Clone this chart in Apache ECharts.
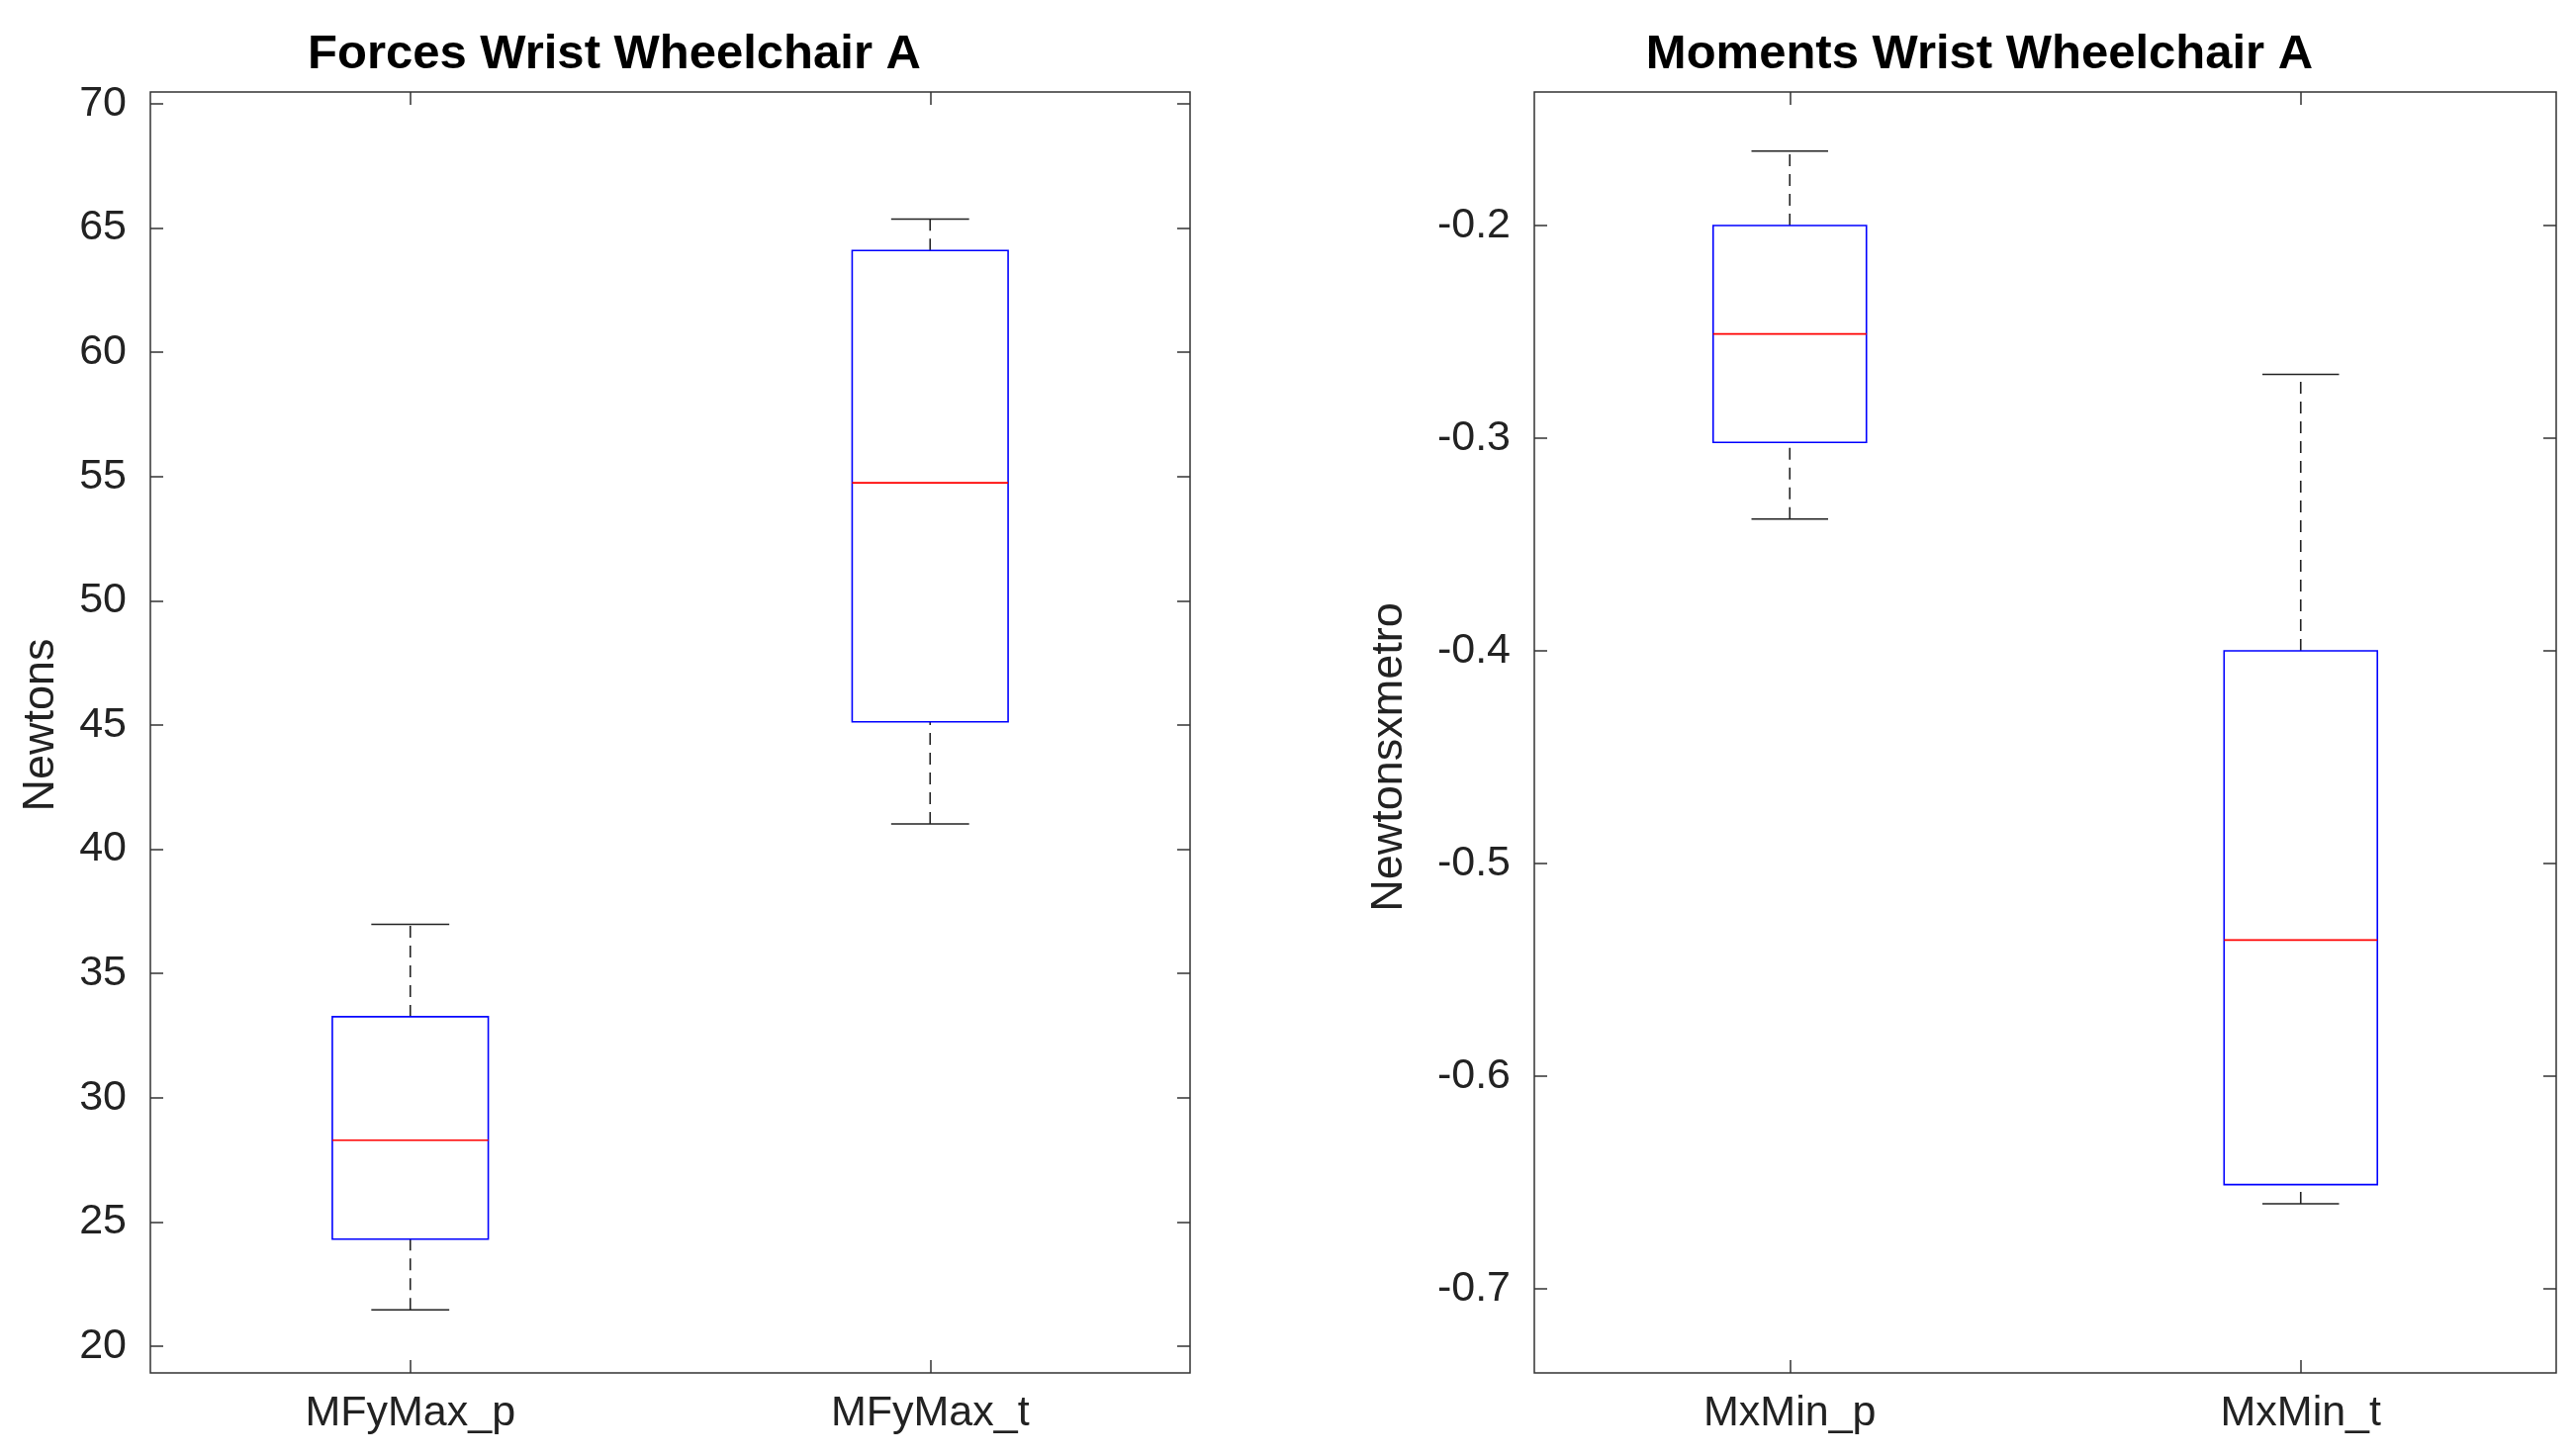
<!DOCTYPE html>
<html>
<head>
<meta charset="utf-8">
<script src="https://cdn.jsdelivr.net/npm/echarts@6/dist/echarts.min.js"></script>
<style>html,body{margin:0;padding:0;background:#fff;}#chart{width:2602px;height:1472px;}</style>
</head>
<body>
<div id="chart"></div>
<script>
// datos: [min, q1, mediana, q3, max]
var forceCats = ['MFyMax_p', 'MFyMax_t'];
var forceBoxes = [
    [21.46, 24.31, 28.29, 33.26, 36.98],
    [41.02, 45.13, 54.75, 64.10, 65.36]
];
var momentCats = ['MxMin_p', 'MxMin_t'];
var momentBoxes = [
    [-0.338, -0.302, -0.251, -0.200, -0.165],
    [-0.660, -0.651, -0.536, -0.400, -0.270]
];

var chart = echarts.init(document.getElementById('chart'));
var font = 'Liberation Sans, Arial, sans-serif';
var frameColor = '#333';

function boxRender(params, api) {
    var i = api.value(0);
    var p = [api.value(1), api.value(2), api.value(3), api.value(4), api.value(5)];
    var pts = p.map(function (v) { return api.coord([i, v]); });
    var bw = api.size([1, 0])[0] * 0.3;
    var x = pts[0][0];
    var dash = {stroke: '#222', lineWidth: 1.6, lineDash: [12, 8]};
    var solid = {stroke: '#222', lineWidth: 1.6};
    return {
        type: 'group',
        children: [
            {type: 'line', shape: {x1: x, y1: pts[0][1], x2: x, y2: pts[1][1]}, style: dash},
            {type: 'line', shape: {x1: x, y1: pts[3][1], x2: x, y2: pts[4][1]}, style: dash},
            {type: 'line', shape: {x1: x - bw / 4, y1: pts[0][1], x2: x + bw / 4, y2: pts[0][1]}, style: solid},
            {type: 'line', shape: {x1: x - bw / 4, y1: pts[4][1], x2: x + bw / 4, y2: pts[4][1]}, style: solid},
            {type: 'rect', shape: {x: x - bw / 2, y: pts[3][1], width: bw, height: pts[1][1] - pts[3][1]},
                style: {fill: 'none', stroke: '#0000ff', lineWidth: 1.6}},
            {type: 'line', shape: {x1: x - bw / 2, y1: pts[2][1], x2: x + bw / 2, y2: pts[2][1]},
                style: {stroke: '#ff0000', lineWidth: 1.6}}
        ]
    };
}

function toData(boxes) {
    return boxes.map(function (b, i) { return [i].concat(b); });
}

function xAxes(cats, grid, topOff, botOff) {
    var tick = {show: true, inside: true, length: 13, alignWithLabel: true, lineStyle: {color: frameColor, width: 1.5}};
    return [
        {type: 'category', gridIndex: grid, data: cats, position: 'bottom', offset: botOff,
            axisLine: {show: false}, axisTick: tick,
            axisLabel: {fontSize: 43, color: '#222', fontFamily: font, margin: 20}},
        {type: 'category', gridIndex: grid, data: cats, position: 'top', offset: topOff,
            axisLine: {show: false}, axisTick: tick, axisLabel: {show: false}}
    ];
}

function yAxes(grid, min, max, interval, name, gap, fmt) {
    var tick = {show: true, inside: true, length: 13, lineStyle: {color: frameColor, width: 1.5}};
    return [
        {type: 'value', gridIndex: grid, min: min, max: max, interval: interval, position: 'left',
            name: name, nameLocation: 'middle', nameGap: gap,
            nameTextStyle: {fontSize: 45, color: '#222', fontFamily: font},
            axisLine: {show: false}, axisTick: tick, splitLine: {show: false},
            axisLabel: {fontSize: 43, color: '#222', fontFamily: font, margin: 24, formatter: fmt}},
        {type: 'value', gridIndex: grid, min: min, max: max, interval: interval, position: 'right',
            axisLine: {show: false}, axisTick: tick, splitLine: {show: false}, axisLabel: {show: false}}
    ];
}

var option = {
    backgroundColor: '#fff',
    animation: false,
    title: [
        {text: 'Forces Wrist Wheelchair A', left: 616, top: 26, textAlign: 'center',
            textStyle: {fontSize: 49, fontWeight: 'bold', color: '#000', fontFamily: font}},
        {text: 'Moments Wrist Wheelchair A', left: 1996, top: 26, textAlign: 'center',
            textStyle: {fontSize: 49, fontWeight: 'bold', color: '#000', fontFamily: font}}
    ],
    grid: [
        {left: 152, width: 1051, top: 105, height: 1256},
        {left: 1551, width: 1033, top: 228, height: 1075}
    ],
    graphic: [
        {type: 'rect', shape: {x: 152, y: 93, width: 1051, height: 1295},
            style: {fill: 'none', stroke: frameColor, lineWidth: 1.5}, z: 10},
        {type: 'rect', shape: {x: 1551, y: 93, width: 1033, height: 1295},
            style: {fill: 'none', stroke: frameColor, lineWidth: 1.5}, z: 10}
    ],
    xAxis: xAxes(forceCats, 0, 12, 27).concat(xAxes(momentCats, 1, 135, 85)),
    yAxis: yAxes(0, 20, 70, 5, 'Newtons', 88, null)
        .concat(yAxes(1, -0.7, -0.2, 0.1, 'Newtonsxmetro', 124, function (v) { return String(Math.round(v * 10) / 10); })),
    series: [
        {type: 'custom', xAxisIndex: 0, yAxisIndex: 0, renderItem: boxRender, clip: false,
            encode: {x: 0, y: [1, 2, 3, 4, 5]}, data: toData(forceBoxes)},
        {type: 'custom', xAxisIndex: 2, yAxisIndex: 2, renderItem: boxRender, clip: false,
            encode: {x: 0, y: [1, 2, 3, 4, 5]}, data: toData(momentBoxes)}
    ]
};
chart.setOption(option);
</script>
</body>
</html>
